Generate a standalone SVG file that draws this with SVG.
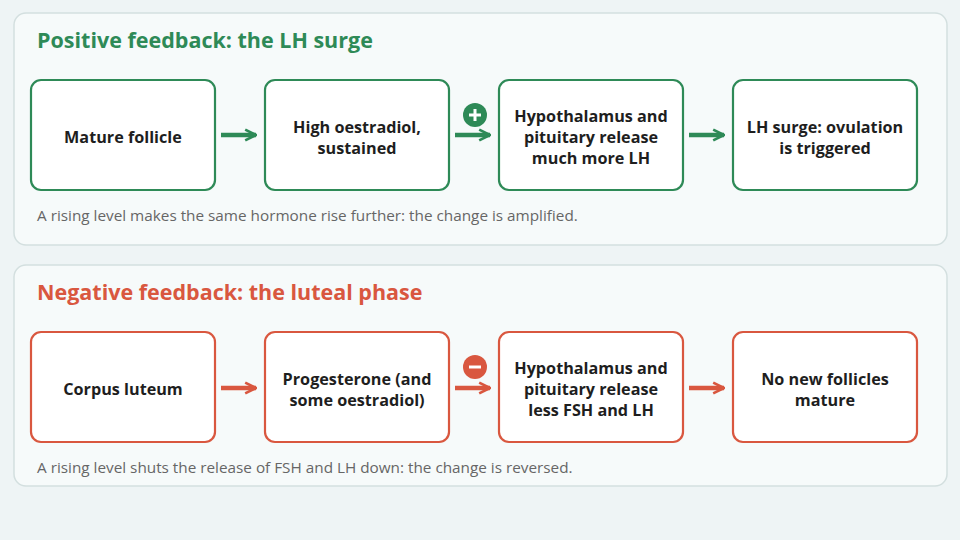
<svg xmlns="http://www.w3.org/2000/svg" width="960" height="540" viewBox="0 0 960 540">
<defs>
<style>
.panel{fill:#f6fafa;stroke:#d3dfdf;stroke-width:1.5}
.t{font-family:"Open Sans","Liberation Sans",sans-serif;font-weight:bold;font-size:21.5px}
.n{font-family:"Open Sans","Liberation Sans",sans-serif;font-weight:bold;font-size:16.2px;fill:#1e1e1e;text-anchor:middle}
.c{font-family:"Open Sans","Liberation Sans",sans-serif;font-size:15.3px;fill:#666}
.g rect{fill:#fff;stroke:#2e8a57;stroke-width:2.2}
.r rect{fill:#fff;stroke:#d9573f;stroke-width:2.2}
.ga{stroke:#2e8a57;stroke-width:4.5;fill:none}
.ra{stroke:#d9573f;stroke-width:4.5;fill:none}
</style>
<marker id="mg" viewBox="0 0 10 10" refX="9" refY="5" markerWidth="3" markerHeight="3" markerUnits="strokeWidth" orient="auto"><path d="M1,1 L9,5 L1,9" fill="none" stroke="#2e8a57" stroke-width="2"/></marker>
<marker id="mr" viewBox="0 0 10 10" refX="9" refY="5" markerWidth="3" markerHeight="3" markerUnits="strokeWidth" orient="auto"><path d="M1,1 L9,5 L1,9" fill="none" stroke="#d9573f" stroke-width="2"/></marker>
</defs>
<rect width="960" height="540" fill="#eef4f5"/>
<rect class="panel" x="14" y="13" width="933" height="232" rx="12"/>
<rect class="panel" x="14" y="265" width="933" height="221" rx="12"/>
<text class="t" x="37" y="48" fill="#2e8a57">Positive feedback: the LH surge</text>
<text class="t" x="37" y="300" fill="#d9573f">Negative feedback: the luteal phase</text>
<g id="p1" class="g"><rect x="31" y="80" width="184" height="110" rx="10"/><text class="n" x="123" y="143">Mature follicle</text></g>
<g id="p2" class="g"><rect x="265" y="80" width="184" height="110" rx="10"/><text class="n" x="357" y="133">High oestradiol,<tspan x="357" dy="21">sustained</tspan></text></g>
<g id="p3" class="g"><rect x="499" y="80" width="184" height="110" rx="10"/><text class="n" x="591" y="122">Hypothalamus and<tspan x="591" dy="21">pituitary release</tspan><tspan x="591" dy="21">much more LH</tspan></text></g>
<g id="p4" class="g"><rect x="733" y="80" width="184" height="110" rx="10"/><text class="n" x="825" y="133">LH surge: ovulation<tspan x="825" dy="21">is triggered</tspan></text></g>
<g id="n1" class="r"><rect x="31" y="332" width="184" height="110" rx="10"/><text class="n" x="123" y="395">Corpus luteum</text></g>
<g id="n2" class="r"><rect x="265" y="332" width="184" height="110" rx="10"/><text class="n" x="357" y="385">Progesterone (and<tspan x="357" dy="21">some oestradiol)</tspan></text></g>
<g id="n3" class="r"><rect x="499" y="332" width="184" height="110" rx="10"/><text class="n" x="591" y="374">Hypothalamus and<tspan x="591" dy="21">pituitary release</tspan><tspan x="591" dy="21">less FSH and LH</tspan></text></g>
<g id="n4" class="r"><rect x="733" y="332" width="184" height="110" rx="10"/><text class="n" x="825" y="385">No new follicles<tspan x="825" dy="21">mature</tspan></text></g>
<g id="connectors">
<path class="ga" d="M221,135 H256" marker-end="url(#mg)"/>
<path class="ga" d="M455,135 H490" marker-end="url(#mg)"/>
<path class="ga" d="M689,135 H724" marker-end="url(#mg)"/>
<path class="ra" d="M221,388 H256" marker-end="url(#mr)"/>
<path class="ra" d="M455,388 H490" marker-end="url(#mr)"/>
<path class="ra" d="M689,388 H724" marker-end="url(#mr)"/>
<circle cx="475" cy="115" r="12" fill="#2e8a57"/>
<path d="M469,115 H481 M475,109 V121" stroke="#fff" stroke-width="3"/>
<circle cx="475" cy="367" r="12" fill="#d9573f"/>
<path d="M469,367 H481" stroke="#fff" stroke-width="3"/>
</g>
<text class="c" x="37" y="221">A rising level makes the same hormone rise further: the change is amplified.</text>
<text class="c" x="37" y="473">A rising level shuts the release of FSH and LH down: the change is reversed.</text>
</svg>
